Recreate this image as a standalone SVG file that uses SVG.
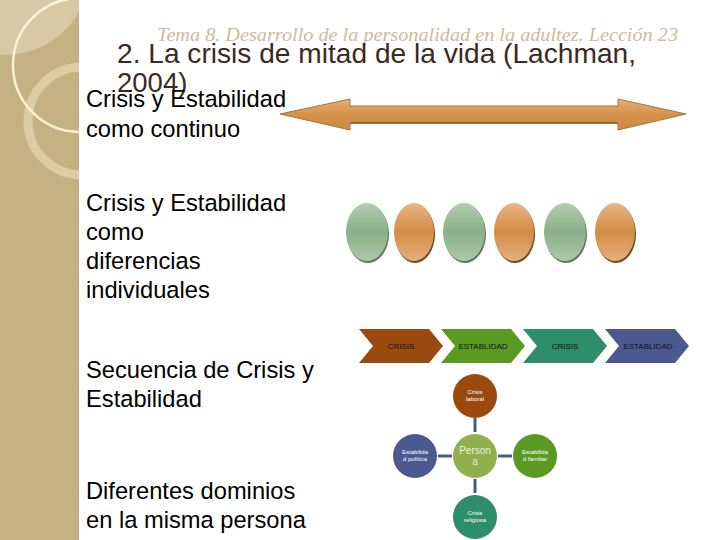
<svg xmlns="http://www.w3.org/2000/svg" width="720" height="540" viewBox="0 0 720 540">
<defs>
<style>
.body{font-family:"Liberation Sans",Arial,sans-serif;font-size:23.7px;fill:#000}
.chev{font-family:"Liberation Sans",Arial,sans-serif;font-size:8px;fill:#111;text-anchor:middle}
.ct{font-family:"Liberation Sans",Arial,sans-serif;font-size:6px;fill:#fff;text-anchor:middle}
.link{stroke:#4a5a7e;stroke-width:3}
</style>
<linearGradient id="gG" x1="0" y1="0" x2="0" y2="1">
<stop offset="0" stop-color="#b5ccb1"/><stop offset="0.5" stop-color="#8aae88"/><stop offset="1" stop-color="#b0c8ac"/>
</linearGradient>
<linearGradient id="gO" x1="0" y1="0" x2="0" y2="1">
<stop offset="0" stop-color="#e6b685"/><stop offset="0.5" stop-color="#d38c42"/><stop offset="1" stop-color="#e3b080"/>
</linearGradient>
<linearGradient id="gA" x1="0" y1="0" x2="0" y2="1">
<stop offset="0" stop-color="#e7b27a"/><stop offset="0.5" stop-color="#d6914a"/><stop offset="1" stop-color="#c98a45"/>
</linearGradient>
<clipPath id="side"><rect x="0" y="0" width="79" height="540"/></clipPath>
</defs>
<rect width="720" height="540" fill="#fff"/>
<g id="sidebar">
<rect x="0" y="0" width="79" height="540" fill="#c4b283"/>
<g clip-path="url(#side)">
<circle cx="5" cy="-30" r="85" fill="#d7c8a6"/>
<circle cx="82" cy="121" r="54" fill="none" stroke="#dccca4" stroke-width="9"/>
<circle cx="80" cy="65" r="67" fill="none" stroke="#fbf3d6" stroke-width="2.5"/>
</g>
</g>
<g id="titles">
<text x="157" y="41" font-family="'Liberation Serif','DejaVu Serif',serif" font-style="italic" font-size="18" fill="#cbbb9c" textLength="521" lengthAdjust="spacingAndGlyphs">Tema 8. Desarrollo de la personalidad en la adultez.  Lección 23</text>
<text x="117" y="63" font-family="'Liberation Sans',Arial,sans-serif" font-size="27.5" fill="#3b2a22" textLength="519" lengthAdjust="spacingAndGlyphs">2. La crisis de mitad de la vida (Lachman,</text>
<text x="117" y="92" font-family="'Liberation Sans',Arial,sans-serif" font-size="27.5" fill="#3b2a22">2004)</text>
</g>
<g id="labels">
<text class="body" x="86" y="107">Crisis y Estabilidad</text>
<text class="body" x="86" y="137">como continuo</text>
<text class="body" x="86" y="211">Crisis y Estabilidad</text>
<text class="body" x="86" y="240">como</text>
<text class="body" x="86" y="269">diferencias</text>
<text class="body" x="86" y="298">individuales</text>
<text class="body" x="86" y="378">Secuencia de Crisis y</text>
<text class="body" x="86" y="407">Estabilidad</text>
<text class="body" x="86" y="499">Diferentes dominios</text>
<text class="body" x="86" y="528">en la misma persona</text>
</g>
<g id="double-arrow">
<path d="M280,114 L350,99 L350,106 L618,106 L618,99 L686,114 L618,130 L618,123 L350,123 L350,130 Z" fill="url(#gA)" stroke="#a8743e" stroke-width="1"/>
<path d="M350,123 L618,123" stroke="#8a5a2a" stroke-width="1.5"/>
</g>
<g id="ellipses">
<ellipse cx="368" cy="234" rx="21" ry="29" fill="#5d7a5a"/>
<ellipse cx="367" cy="232" rx="21" ry="29" fill="url(#gG)"/>
<ellipse cx="415" cy="234" rx="20" ry="29" fill="#7a4a1e"/>
<ellipse cx="414" cy="232" rx="20" ry="29" fill="url(#gO)"/>
<ellipse cx="465" cy="234" rx="21" ry="29" fill="#5d7a5a"/>
<ellipse cx="464" cy="232" rx="21" ry="29" fill="url(#gG)"/>
<ellipse cx="515" cy="234" rx="20" ry="29" fill="#7a4a1e"/>
<ellipse cx="514" cy="232" rx="20" ry="29" fill="url(#gO)"/>
<ellipse cx="566" cy="234" rx="21" ry="29" fill="#5d7a5a"/>
<ellipse cx="565" cy="232" rx="21" ry="29" fill="url(#gG)"/>
<ellipse cx="616" cy="234" rx="20" ry="29" fill="#7a4a1e"/>
<ellipse cx="615" cy="232" rx="20" ry="29" fill="url(#gO)"/>
</g>
<g id="chevrons">
<g id="chev1"><path d="M359,329 L429,329 L443,346 L429,363 L359,363 L373,346 Z" fill="#9b4a0f"/><text class="chev" x="401" y="349">CRISIS</text></g>
<g id="chev2"><path d="M441,329 L511,329 L525,346 L511,363 L441,363 L455,346 Z" fill="#5a9a22"/><text class="chev" x="483" y="349">ESTABLIDAD</text></g>
<g id="chev3"><path d="M523,329 L593,329 L607,346 L593,363 L523,363 L537,346 Z" fill="#2e8d6b"/><text class="chev" x="565" y="349">CRISIS</text></g>
<g id="chev4"><path d="M605,329 L675,329 L689,346 L675,363 L605,363 L619,346 Z" fill="#4a5990"/><text class="chev" x="648" y="349">ESTABLIDAD</text></g>
</g>
<g id="connectors">
<line class="link" x1="475" y1="418" x2="475" y2="432"/>
<line class="link" x1="438" y1="456" x2="452" y2="456"/>
<line class="link" x1="498" y1="456" x2="512" y2="456"/>
<line class="link" x1="475" y1="479" x2="475" y2="493"/>
</g>
<g id="n-laboral"><circle cx="475" cy="396" r="22" fill="#9b4a0f"/><text class="ct" x="475" y="394">Crisis</text><text class="ct" x="475" y="401">laboral</text></g>
<g id="n-politica"><circle cx="415" cy="456" r="22" fill="#4a5990"/><text class="ct" x="415" y="454">Estabilida</text><text class="ct" x="415" y="461">d política</text></g>
<g id="n-persona"><circle cx="475" cy="456" r="22" fill="#8fb04c"/><text x="475" y="454" font-family="'Liberation Sans',Arial,sans-serif" font-size="10" fill="#e8f0d8" text-anchor="middle">Person</text><text x="475" y="465" font-family="'Liberation Sans',Arial,sans-serif" font-size="10" fill="#e8f0d8" text-anchor="middle">a</text></g>
<g id="n-familiar"><circle cx="535" cy="456" r="22" fill="#5a9a22"/><text class="ct" x="535" y="454">Estabilida</text><text class="ct" x="535" y="461">d familiar</text></g>
<g id="n-religiosa"><circle cx="475" cy="517" r="22" fill="#2e8d6b"/><text class="ct" x="475" y="515">Crisis</text><text class="ct" x="475" y="522">religiosa</text></g>
</svg>
